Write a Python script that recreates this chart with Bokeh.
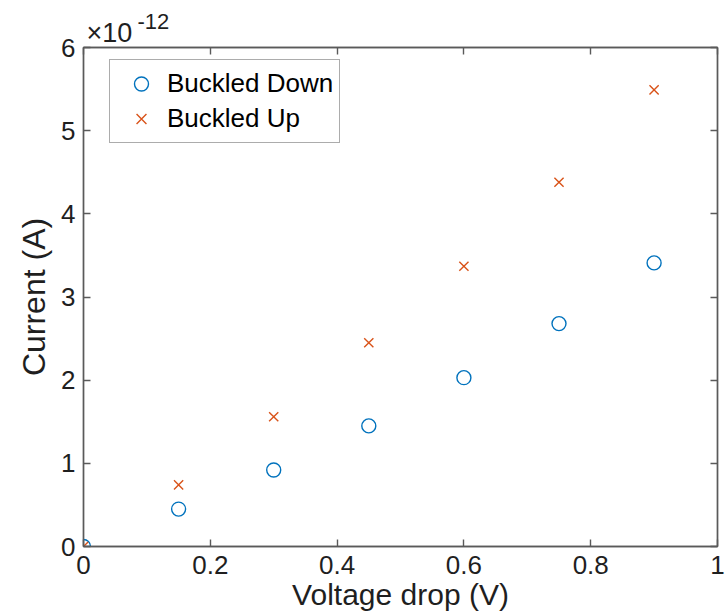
from bokeh.plotting import figure
from bokeh.models import Range1d, LinearAxis, Label, Legend, LegendItem, FixedTicker
from bokeh.embed import file_html
from bokeh.resources import INLINE

# Data (current in units of 1e-12 A)
voltage = [0.0, 0.15, 0.30, 0.45, 0.60, 0.75, 0.90]
current_down = [0.0, 0.45, 0.92, 1.45, 2.03, 2.68, 3.41]
current_up = [0.0, 0.74, 1.56, 2.45, 3.37, 4.38, 5.49]
series_names = ["Buckled Down", "Buckled Up"]
x_ticks = [0, 0.2, 0.4, 0.6, 0.8, 1.0]
x_tick_labels = ["0", "0.2", "0.4", "0.6", "0.8", "1"]
y_ticks = [0, 1, 2, 3, 4, 5, 6]
y_tick_labels = ["0", "1", "2", "3", "4", "5", "6"]

FONT = "Liberation Sans"
AX = "#5a5a5a"
TXT = "#1f1f1f"
BLUE = "#0072BD"
ORANGE = "#D95319"

p = figure(frame_width=634, frame_height=499,
           output_backend="svg", toolbar_location=None,
           x_range=Range1d(0, 1), y_range=Range1d(0, 6),
           min_border_left=83, min_border_right=11,
           min_border_top=47, min_border_bottom=68,
           x_axis_label="Voltage drop (V)", y_axis_label="Current (A)")
p.grid.visible = False
p.outline_line_color = AX
p.outline_line_width = 1.4
p.background_fill_color = "white"
p.border_fill_color = "white"

def style_axis(ax, ticks, labels, show_labels=True):
    ax.ticker = FixedTicker(ticks=ticks)
    ax.major_label_overrides = {t: l for t, l in zip(ticks, labels)}
    ax.minor_tick_line_color = None
    ax.major_tick_in = 7
    ax.major_tick_out = 0
    ax.major_tick_line_color = AX
    ax.major_tick_line_width = 1.4
    ax.axis_line_color = AX
    ax.axis_line_width = 1.4
    ax.major_label_text_font = FONT
    ax.major_label_text_color = TXT
    ax.major_label_text_font_size = "26px" if show_labels else "0px"
    ax.axis_label_text_font = FONT
    ax.axis_label_text_font_style = "normal"
    ax.axis_label_text_color = TXT

xa = p.xaxis[0]
ya = p.yaxis[0]
style_axis(xa, x_ticks, x_tick_labels)
style_axis(ya, y_ticks, y_tick_labels)
xa.major_label_standoff = 9
ya.major_label_standoff = 8
xa.axis_label_text_font_size = "30px"
ya.axis_label_text_font_size = "32px"
xa.axis_label_standoff = 1
ya.axis_label_standoff = 6

top = LinearAxis()
style_axis(top, x_ticks, ["" for _ in x_ticks], show_labels=False)
top.major_label_standoff = 0
p.add_layout(top, "above")
right = LinearAxis()
style_axis(right, y_ticks, ["" for _ in y_ticks], show_labels=False)
right.major_label_standoff = 0
p.add_layout(right, "right")

r_down = p.scatter(voltage, current_down, marker="circle", size=14,
                   fill_color=None, line_color=BLUE, line_width=1.4)
r_up = p.scatter(voltage, current_up, marker="x", size=13,
                 line_color=ORANGE, line_width=1.4)

legend = Legend(items=[LegendItem(label=series_names[0], renderers=[r_down]),
                       LegendItem(label=series_names[1], renderers=[r_up])],
                location=(26, 403))
legend.border_line_color = AX
legend.border_line_width = 1.4
legend.background_fill_color = "white"
legend.background_fill_alpha = 1.0
legend.padding = 6
legend.spacing = 0
legend.margin = 0
legend.glyph_width = 50
legend.glyph_height = 35
legend.label_height = 35
legend.label_standoff = 1
legend.label_text_font = FONT
legend.label_text_font_size = "26px"
legend.label_text_color = "black"
p.add_layout(legend)

exp_base = Label(x=0, y=6, text="×10", x_offset=3, y_offset=15,
                 text_font=FONT, text_font_size="27px", text_color=TXT,
                 text_baseline="alphabetic", text_align="left")
exp_pow = Label(x=0, y=6, text="-12", x_offset=54, y_offset=26,
                text_font=FONT, text_font_size="22px", text_color=TXT,
                text_baseline="alphabetic", text_align="left")
p.add_layout(exp_base, "above")
p.add_layout(exp_pow, "above")

open("out.html", "w").write(file_html(p, INLINE))
